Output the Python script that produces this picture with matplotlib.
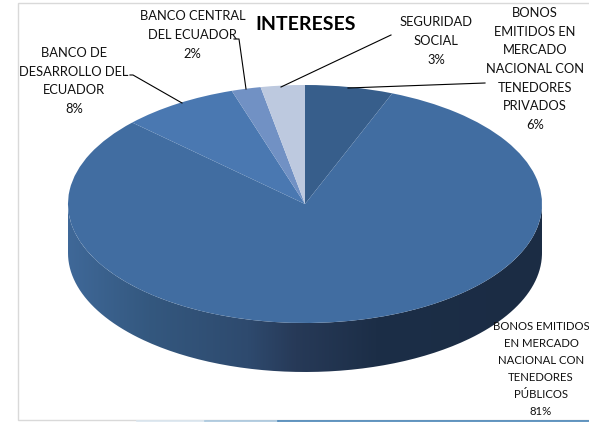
import numpy as np
import matplotlib
matplotlib.use('Agg')
import matplotlib.pyplot as plt
from matplotlib.patches import PathPatch, Rectangle
from matplotlib.path import Path
from matplotlib.colors import LinearSegmentedColormap

W, H = 589, 422

# clockwise from 12 o'clock
labels = ['BONOS\nEMITIDOS EN\nMERCADO\nNACIONAL CON\nTENEDORES\nPRIVADOS\n6%',
          'BONOS EMITIDOS\nEN MERCADO\nNACIONAL CON\nTENEDORES\nPÚBLICOS\n81%',
          'BANCO DE\nDESARROLLO DEL\nECUADOR\n8%',
          'BANCO CENTRAL\nDEL ECUADOR\n2%',
          'SEGURIDAD\nSOCIAL\n3%']
values = [6, 81, 8, 2, 3]
colors = ['#375e8b', '#416da1', '#4a78b1', '#7191c4', '#bdc9df']

plt.rcParams['font.family'] = ['Lato', 'DejaVu Sans']

fig = plt.figure(figsize=(W / 100, H / 100), dpi=100, facecolor='white')

# overlay in pixel coordinates for frame, text, leaders
bg = fig.add_axes([0, 0, 1, 1])
bg.set_xlim(0, W)
bg.set_ylim(H, 0)
bg.axis('off')
bg.add_patch(Rectangle((17.5, 2.5), 600, 417.5, fc='white', ec='#d9d9d9', lw=1))
# strip of the next object under the frame
bg.plot([137, 205], [421.2, 421.2], color='#dbe7f0', lw=1.2)
bg.plot([205, 278], [421.2, 421.2], color='#a9c8de', lw=1.2)
bg.plot([278, 589], [421.2, 421.2], color='#4a86b8', lw=1.2)

# pie axes sit on the ellipse box, so the circle is squashed
cx, cy, rx, ry, depth = 305, 204, 237, 119, 49
ax = fig.add_axes([(cx - rx) / W, 1 - (cy + ry) / H, 2 * rx / W, 2 * ry / H])
ax.patch.set_alpha(0)
ax.axis('off')

# side wall with the left to right shading
d = depth / ry
t = np.linspace(np.pi, 2 * np.pi, 200)
xs = np.concatenate([np.cos(t), np.cos(t[::-1])])
ys = np.concatenate([np.sin(t) - d, np.sin(t[::-1])])
wall = PathPatch(Path(np.column_stack([xs, ys])), fc='none', ec='none', clip_on=False)
ax.add_patch(wall)
cmap = LinearSegmentedColormap.from_list('wall', [(0, '#3f6898'), (0.17, '#34587f'), (0.38, '#2e4a6e'),
                                                  (0.48, '#273a58'), (0.65, '#1c2e47'), (1, '#1b2c44')])
im = ax.imshow(np.linspace(0, 1, 256)[None, :], cmap=cmap, extent=(-1, 1, -1 - d, 1), aspect='auto', zorder=1)
im.set_clip_box(fig.bbox)
im.set_clip_path(wall)

wedges, _ = ax.pie(values, colors=colors, startangle=90, counterclock=False, radius=1,
                   wedgeprops={'linewidth': 0, 'zorder': 2})
ax.set_aspect('auto')
ax.set_xlim(-1, 1)
ax.set_ylim(-1, 1)

# texts and leaders on top
top = fig.add_axes([0, 0, 1, 1])
top.set_xlim(0, W)
top.set_ylim(H, 0)
top.axis('off')
top.patch.set_alpha(0)

top.text(306, 25, 'INTERESES', fontsize=14, fontweight='bold', ha='center', va='center', color='black')

label_pos = [(535, 69), (541, 369), (74, 81), (192.5, 35), (436, 41)]
label_size = [9.3, 8.2, 9.3, 9.3, 9.3]
for lab, (x, y), fs in zip(labels, label_pos, label_size):
    top.text(x, y, lab, fontsize=fs, ha='center', va='center', color='#111111', linespacing=1.66)

leaders = [([485, 348], [83, 88]),
           ([130, 133, 182], [75, 75, 103]),
           ([234, 239, 246], [39, 39, 89]),
           ([391, 281], [35, 87])]
for lx, ly in leaders:
    top.plot(lx, ly, color='black', lw=0.8)

fig.savefig('out.png', dpi=100)
